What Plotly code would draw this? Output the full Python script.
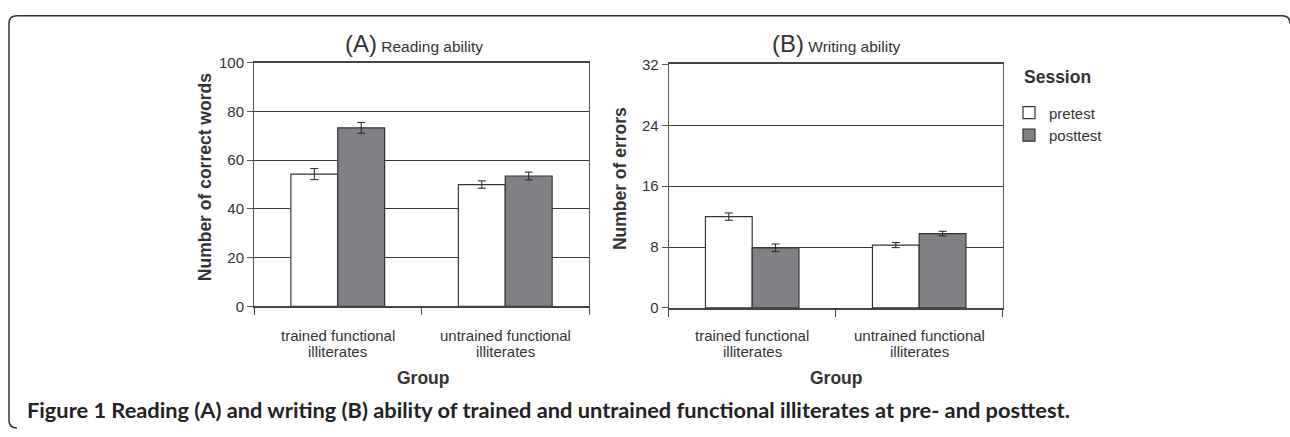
import plotly.graph_objects as go

W, H = 1290, 437

# ---- data ----
groups = ["trained functional illiterates", "untrained functional illiterates"]
group_line1 = ["trained functional", "untrained functional"]
group_line2 = ["illiterates", "illiterates"]
sessions = ["pretest", "posttest"]

reading_pre = [54.3, 50.0]
reading_pre_err = [2.3, 1.5]
reading_post = [73.3, 53.5]
reading_post_err = [2.2, 1.6]

writing_pre = [12.0, 8.25]
writing_pre_err = [0.48, 0.33]
writing_post = [7.9, 9.77]
writing_post_err = [0.5, 0.3]

reading_ticks = [0, 20, 40, 60, 80, 100]
writing_ticks = [0, 8, 16, 24, 32]

# ---- styles ----
FONT = "Liberation Sans, Arial, sans-serif"
TXT = "#333333"
EDGE = "#333333"
PRE_COL = "#ffffff"
POST_COL = "#808185"


def px(x):
    return x / W


def py(y):
    return 1 - y / H


fig = go.Figure()

err_style = dict(type="data", color="#222222", thickness=1, width=4)

fig.add_trace(go.Bar(x=groups, y=reading_pre, name=sessions[0], legendgroup="pre",
                     marker=dict(color=PRE_COL, line=dict(color=EDGE, width=1.2)),
                     error_y=dict(array=reading_pre_err, **err_style),
                     xaxis="x", yaxis="y"))
fig.add_trace(go.Bar(x=groups, y=reading_post, name=sessions[1], legendgroup="post",
                     marker=dict(color=POST_COL, line=dict(color=EDGE, width=1.2)),
                     error_y=dict(array=reading_post_err, **err_style),
                     xaxis="x", yaxis="y"))
fig.add_trace(go.Bar(x=groups, y=writing_pre, name=sessions[0], legendgroup="pre", showlegend=False,
                     marker=dict(color=PRE_COL, line=dict(color=EDGE, width=1.2)),
                     error_y=dict(array=writing_pre_err, **err_style),
                     xaxis="x2", yaxis="y2"))
fig.add_trace(go.Bar(x=groups, y=writing_post, name=sessions[1], legendgroup="post", showlegend=False,
                     marker=dict(color=POST_COL, line=dict(color=EDGE, width=1.2)),
                     error_y=dict(array=writing_post_err, **err_style),
                     xaxis="x2", yaxis="y2"))

xcommon = dict(type="category", showline=True, mirror=True, linecolor="#444444", linewidth=1.5,
               ticks="outside", tickson="boundaries", ticklen=7, tickcolor="#444444",
               showticklabels=False, showgrid=False, zeroline=False, fixedrange=True)
ycommon = dict(showline=True, mirror=True, linecolor="#555555", linewidth=1,
               ticks="outside", ticklen=6, tickcolor="#555555",
               showgrid=True, gridcolor="#3a3a3a", gridwidth=1.2, zeroline=False,
               tickfont=dict(family=FONT, size=15, color=TXT), fixedrange=True)

fig.update_layout(
    width=W, height=H,
    margin=dict(l=0, r=0, t=0, b=0),
    paper_bgcolor="white", plot_bgcolor="white",
    barmode="group", bargap=0.44, bargroupgap=0,
    font=dict(family=FONT, color=TXT),
    xaxis=dict(domain=[px(254), px(589)], anchor="y", **xcommon),
    yaxis=dict(domain=[py(309.3), py(56)], anchor="x", range=[0, 100],
               tickmode="array", tickvals=reading_ticks, **ycommon),
    xaxis2=dict(domain=[px(668.7), px(1002.7)], anchor="y2", **xcommon),
    yaxis2=dict(domain=[py(311), py(57.7)], anchor="x2", range=[0, 32],
                tickmode="array", tickvals=writing_ticks, **ycommon),
    legend=dict(x=px(1009), y=py(91), xanchor="left", yanchor="top",
                font=dict(family=FONT, size=15, color=TXT),
                tracegroupgap=12, traceorder="normal", bgcolor="rgba(0,0,0,0)"),
    showlegend=True,
)

ann = []
# panel titles
ann.append(dict(xref="paper", yref="paper", x=px(414), y=py(36), xanchor="center", yanchor="middle",
                text="<span style='font-size:24px'>(A)</span> Reading ability", showarrow=False,
                font=dict(family=FONT, size=15.5, color=TXT)))
ann.append(dict(xref="paper", yref="paper", x=px(836.5), y=py(36), xanchor="center", yanchor="middle",
                text="<span style='font-size:24px'>(B)</span> Writing ability", showarrow=False,
                font=dict(family=FONT, size=15.5, color=TXT)))
# legend title
ann.append(dict(xref="paper", yref="paper", x=px(1022), y=py(71), xanchor="left", yanchor="middle",
                text="<b>Session</b>", showarrow=False, font=dict(family=FONT, size=17.5, color=TXT)))
# y axis titles
ann.append(dict(xref="paper", yref="paper", x=px(205), y=py(175), xanchor="center", yanchor="middle",
                text="<b>Number of correct words</b>", textangle=-90, showarrow=False,
                font=dict(family=FONT, size=17.5, color=TXT)))
ann.append(dict(xref="paper", yref="paper", x=px(620), y=py(177), xanchor="center", yanchor="middle",
                text="<b>Number of errors</b>", textangle=-90, showarrow=False,
                font=dict(family=FONT, size=17.5, color=TXT)))
# category labels (two lines, tight spacing)
for xr in ["x", "x2"]:
    for g, l1, l2 in zip(groups, group_line1, group_line2):
        ann.append(dict(xref=xr, yref="paper", x=g, y=py(340), xanchor="center", yanchor="middle",
                        text=l1, showarrow=False, font=dict(family=FONT, size=15, color=TXT)))
        ann.append(dict(xref=xr, yref="paper", x=g, y=py(356), xanchor="center", yanchor="middle",
                        text=l2, showarrow=False, font=dict(family=FONT, size=15, color=TXT)))
# x axis titles
ann.append(dict(xref="paper", yref="paper", x=px(423), y=py(384), xanchor="center", yanchor="middle",
                text="<b>Group</b>", showarrow=False, font=dict(family=FONT, size=17.5, color=TXT)))
ann.append(dict(xref="paper", yref="paper", x=px(836), y=py(384), xanchor="center", yanchor="middle",
                text="<b>Group</b>", showarrow=False, font=dict(family=FONT, size=17.5, color=TXT)))
# caption
ann.append(dict(xref="paper", yref="paper", x=px(25), y=py(417), xanchor="left", yanchor="middle",
                text="<b>Figure 1 Reading (A) and writing (B) ability of trained and untrained functional illiterates at pre- and posttest.</b>",
                showarrow=False, font=dict(family="Lato, Open Sans, sans-serif", size=21.8, color="#222222")))
fig.update_layout(annotations=ann)

# rounded frame around figure
pts = [(1290, 15), (1290, 7), (1282, 7), (17, 7), (9, 7), (9, 15), (9, 428), (9, 436), (17, 436)]
P = [(px(a), py(b)) for a, b in pts]
path = (f"M {P[0][0]},{P[0][1]} Q {P[1][0]},{P[1][1]} {P[2][0]},{P[2][1]} "
        f"L {P[3][0]},{P[3][1]} Q {P[4][0]},{P[4][1]} {P[5][0]},{P[5][1]} "
        f"L {P[6][0]},{P[6][1]} Q {P[7][0]},{P[7][1]} {P[8][0]},{P[8][1]}")
fig.add_shape(type="path", xref="paper", yref="paper", path=path,
              line=dict(color="#333333", width=1.5))

css_fix = ("var d=document.documentElement, b=document.body;"
           "d.style.margin='0'; d.style.padding='0'; d.style.overflow='hidden';"
           "b.style.margin='0'; b.style.padding='0'; b.style.overflow='hidden';")
fig.write_html("out.html", post_script=css_fix, config={"displayModeBar": False})
